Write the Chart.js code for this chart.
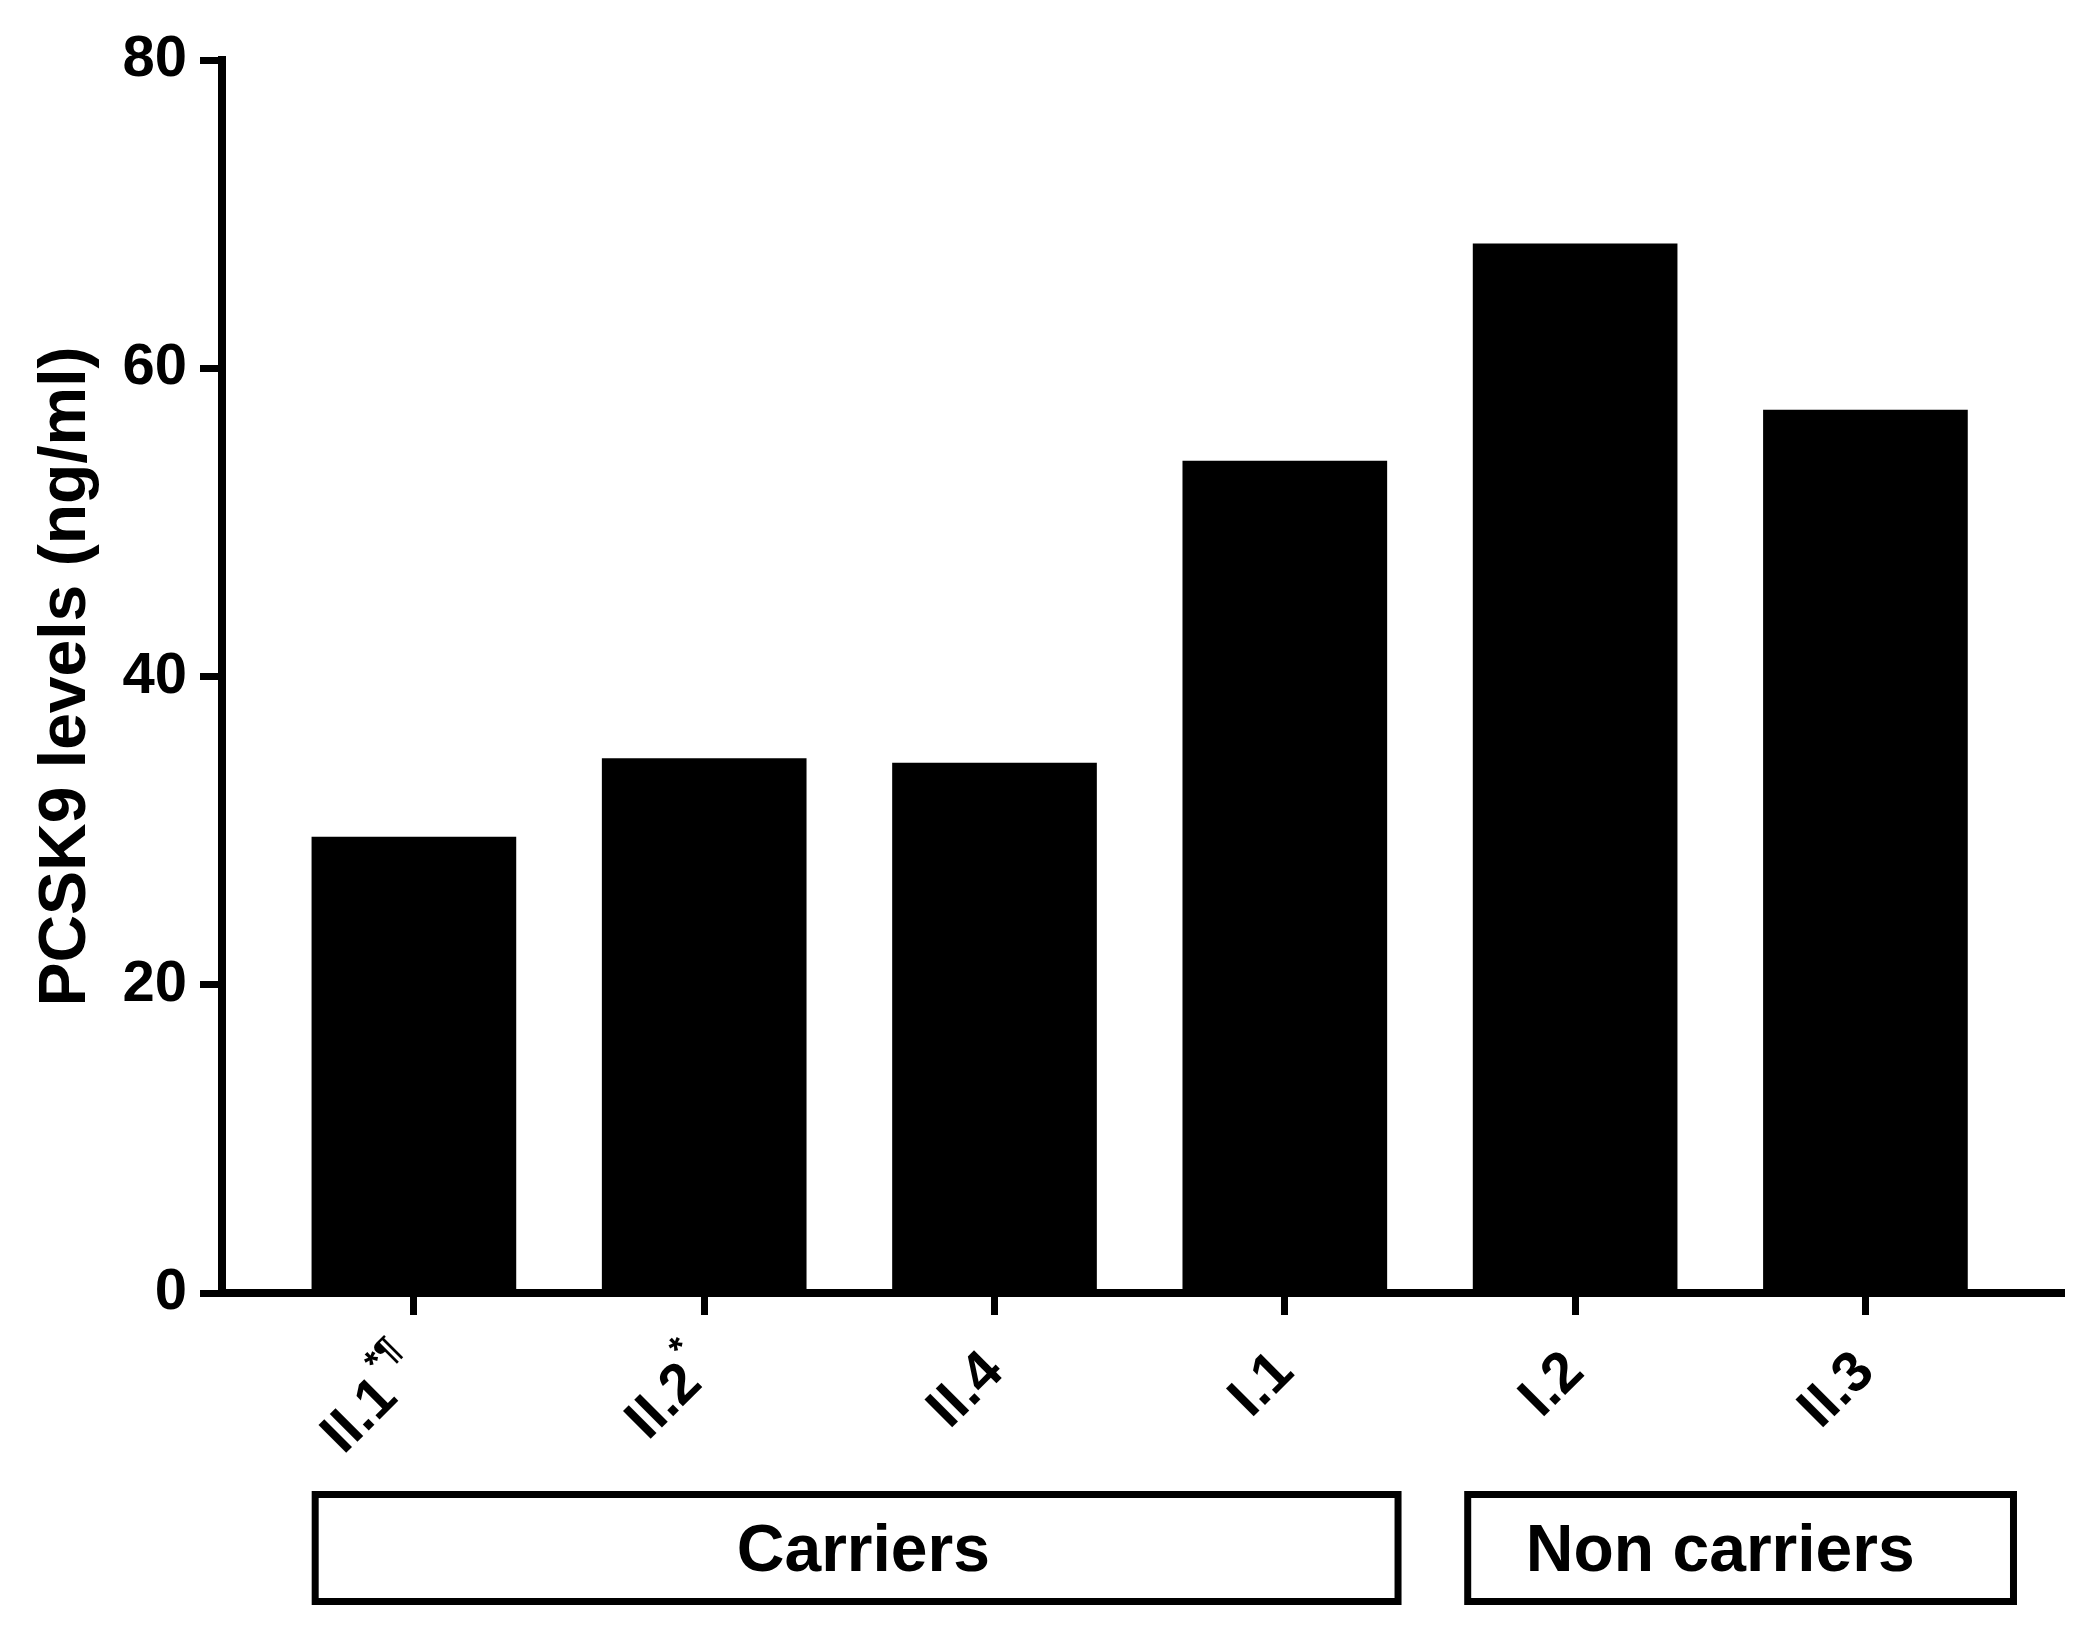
<!DOCTYPE html>
<html>
<head>
<meta charset="utf-8">
<script src="https://cdn.jsdelivr.net/npm/chart.js@4.4.1/dist/chart.umd.min.js"></script>
<style>
  html, body { margin: 0; background: #fff; }
  #wrap { width: 2096px; height: 1651px; position: relative; }
</style>
</head>
<body>
<div id="wrap"><canvas id="chart"></canvas></div>
<script>
const categories = ['II.1', 'II.2', 'II.4', 'I.1', 'I.2', 'II.3'];
const superscripts = ['*¶', '*', '', '', '', ''];
const pcsk9Levels = [29.6, 34.7, 34.4, 54.0, 68.1, 57.3];
const yTicks = [0, 20, 40, 60, 80];
const groupNames = ['Carriers', 'Non carriers'];
const groupFirst = [0, 4];
const groupLast = [3, 5];

const FONT = "'Liberation Sans', Arial, Helvetica, sans-serif";

// --- rotated labels + group boxes under the axis ---
const underAxis = {
  id: 'underAxis',
  afterDraw(chart) {
    const ctx = chart.ctx, xs = chart.scales.x, bottom = chart.chartArea.bottom;
    ctx.save();
    ctx.fillStyle = '#000';
    ctx.strokeStyle = '#000';

    categories.forEach((lab, i) => {
      const sup = superscripts[i];
      ctx.font = `bold 57px ${FONT}`;
      const wMain = ctx.measureText(lab).width;
      ctx.font = `bold 36px ${FONT}`;
      const wSup = sup ? ctx.measureText(sup).width + 2 : 0;
      ctx.save();
      ctx.translate(xs.getPixelForValue(i), bottom + 70);
      ctx.rotate(-Math.PI / 4);
      ctx.textAlign = 'left';
      ctx.textBaseline = 'middle';
      ctx.font = `bold 57px ${FONT}`;
      ctx.fillText(lab, -(wMain + wSup), 0);
      if (sup) {
        ctx.font = `bold 36px ${FONT}`;
        ctx.fillText(sup, -wSup + 2, -26);
      }
      ctx.restore();
    });

    // box padding in category units (left, right), text nudge in px
    const pad = [[-0.34, 0.39], [-0.37, 0.51]];
    const nudge = [14, 0];
    groupNames.forEach((name, g) => {
      const x1 = xs.getPixelForValue(groupFirst[g] + pad[g][0]);
      const x2 = xs.getPixelForValue(groupLast[g] + pad[g][1]);
      ctx.lineWidth = 7;
      ctx.strokeRect(x1, bottom + 201.5, x2 - x1, 107);
      ctx.font = `bold 66px ${FONT}`;
      ctx.textAlign = 'center';
      ctx.textBaseline = 'alphabetic';
      ctx.fillText(name, xs.getPixelForValue((groupFirst[g] + groupLast[g]) / 2) + nudge[g], bottom + 278);
    });
    ctx.restore();
  }
};

new Chart(document.getElementById('chart'), {
  type: 'bar',
  data: {
    datasets: [{
      data: categories.map((c, i) => ({ x: i, y: pcsk9Levels[i] })),
      backgroundColor: '#000',
      borderWidth: 0,
      categoryPercentage: 1,
      barPercentage: 0.705
    }]
  },
  plugins: [underAxis],
  options: {
    responsive: true,
    maintainAspectRatio: false,
    animation: false,
    layout: { padding: { top: 60, right: 32, left: 0, bottom: 0 } },
    plugins: { legend: { display: false }, tooltip: { enabled: false } },
    scales: {
      x: {
        type: 'linear',
        offset: false,
        min: -0.661, max: 5.684,
        afterBuildTicks: s => { s.ticks = categories.map((c, i) => ({ value: i })); },
        afterFit: s => { s.height = 358; },
        ticks: { display: false },
        grid: { offset: false, drawOnChartArea: false, drawTicks: true, tickLength: 22, tickWidth: 7, tickColor: '#000' },
        border: { display: true, color: '#000', width: 8 }
      },
      y: {
        min: 0, max: 80,
        afterBuildTicks: s => { s.ticks = yTicks.map(v => ({ value: v })); },
        afterFit: s => { s.width = 222; },
        ticks: { color: '#000', padding: 13, font: { family: FONT, size: 58, weight: 'bold' } },
        grid: { drawOnChartArea: false, drawTicks: true, tickLength: 22, tickWidth: 7, tickColor: '#000' },
        border: { display: true, color: '#000', width: 8 },
        title: {
          display: true,
          text: 'PCSK9 levels (ng/ml)',
          color: '#000',
          padding: { top: 27, bottom: 0 },
          font: { family: FONT, size: 66, weight: 'bold' }
        }
      }
    }
  }
});
</script>
</body>
</html>
